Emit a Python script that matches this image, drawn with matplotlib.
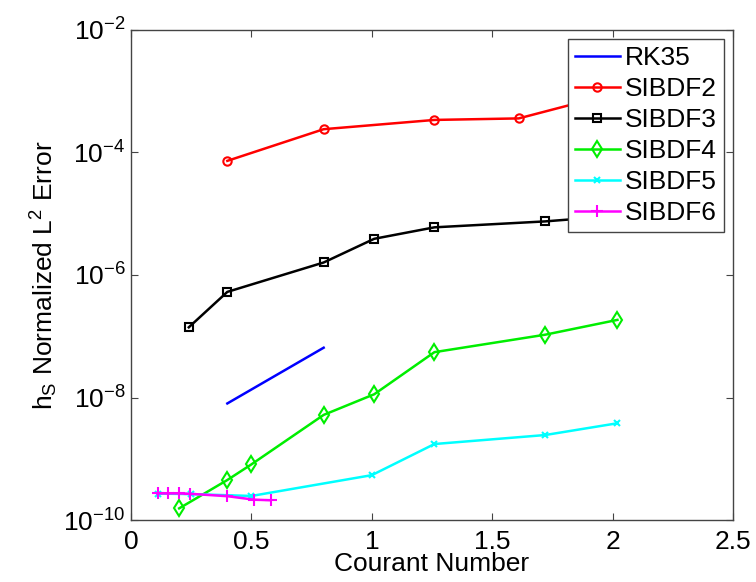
# Error vs Courant number for the SIBDF schemes (log scale)
import matplotlib.pyplot as plt
from matplotlib.ticker import NullLocator

plt.rcParams['font.family'] = ['Liberation Sans', 'DejaVu Sans']
plt.rcParams['mathtext.fontset'] = 'custom'
plt.rcParams['mathtext.rm'] = 'Liberation Sans'
plt.rcParams['mathtext.default'] = 'regular'

rk35_x = [0.40, 0.80]
rk35_y = [8.0e-9, 6.5e-8]

sibdf2_x = [0.40, 0.80, 1.26, 1.61, 2.02]
sibdf2_y = [7.3e-5, 2.4e-4, 3.4e-4, 3.6e-4, 9.5e-4]

sibdf3_x = [0.24, 0.40, 0.80, 1.01, 1.26, 1.72, 2.02]
sibdf3_y = [1.4e-7, 5.3e-7, 1.6e-6, 3.9e-6, 6.0e-6, 7.5e-6, 9.3e-6]

sibdf4_x = [0.20, 0.40, 0.50, 0.80, 1.01, 1.26, 1.72, 2.02]
sibdf4_y = [1.55e-10, 4.5e-10, 8.1e-10, 5.2e-9, 1.13e-8, 5.5e-8, 1.06e-7, 1.85e-7]

sibdf5_x = [0.11, 0.25, 0.50, 1.00, 1.26, 1.72, 2.02]
sibdf5_y = [2.7e-10, 2.65e-10, 2.47e-10, 5.4e-10, 1.74e-9, 2.44e-9, 3.8e-9]

sibdf6_x = [0.11, 0.155, 0.20, 0.245, 0.40, 0.51, 0.58]
sibdf6_y = [2.72e-10, 2.72e-10, 2.72e-10, 2.68e-10, 2.45e-10, 2.15e-10, 2.1e-10]

fig = plt.figure(figsize=(7.56, 5.82), dpi=100)
ax = fig.add_axes([0.1733, 0.1065, 0.7963, 0.842])

lw = 1.8
ax.plot(rk35_x, rk35_y, color='#0000ff', lw=lw, label='RK35')
ax.plot(sibdf2_x, sibdf2_y, color='#ff0000', lw=lw, marker='o', ms=6,
        mfc='none', mew=1.5, label='SIBDF2')
ax.plot(sibdf3_x, sibdf3_y, color='#000000', lw=lw, marker='s', ms=5.5,
        mfc='none', mew=1.5, label='SIBDF3')
ax.plot(sibdf4_x, sibdf4_y, color='#00ee00', lw=lw, marker='d', ms=8,
        mfc='none', mew=1.5, label='SIBDF4')
ax.plot(sibdf5_x, sibdf5_y, color='#00ffff', lw=lw, marker='x', ms=4.5,
        mew=1.5, label='SIBDF5')
ax.plot(sibdf6_x, sibdf6_y, color='#ff00ff', lw=lw, marker='+', ms=8,
        mew=1.5, label='SIBDF6')

ax.set_yscale('log')
ax.set_xlim(0, 2.5)
ax.set_ylim(1e-10, 1e-2)
ax.set_xticks([0, 0.5, 1, 1.5, 2, 2.5])
ax.set_xticklabels(['0', '0.5', '1', '1.5', '2', '2.5'])
ax.set_yticks([1e-10, 1e-8, 1e-6, 1e-4, 1e-2])
ax.yaxis.set_minor_locator(NullLocator())
ax.tick_params(direction='in', top=True, right=True, length=5,
               labelsize=19, color='#444444', pad=4)
ax.tick_params(axis='x', pad=7)

for s in ax.spines.values():
    s.set_color('#444444')
    s.set_linewidth(1.0)

ax.set_xlabel('Courant Number', fontsize=19, labelpad=-1)
ax.set_ylabel('h$_S$ Normalized L$^2$ Error', fontsize=19, labelpad=2)

leg = ax.legend(loc='upper right', fontsize=19, fancybox=False,
                framealpha=1, edgecolor='#444444', handlelength=1.7,
                handletextpad=0.2, labelspacing=0.27, borderpad=0.25,
                borderaxespad=0.35)
leg.get_frame().set_linewidth(1.0)

fig.savefig('out.png', dpi=100)
